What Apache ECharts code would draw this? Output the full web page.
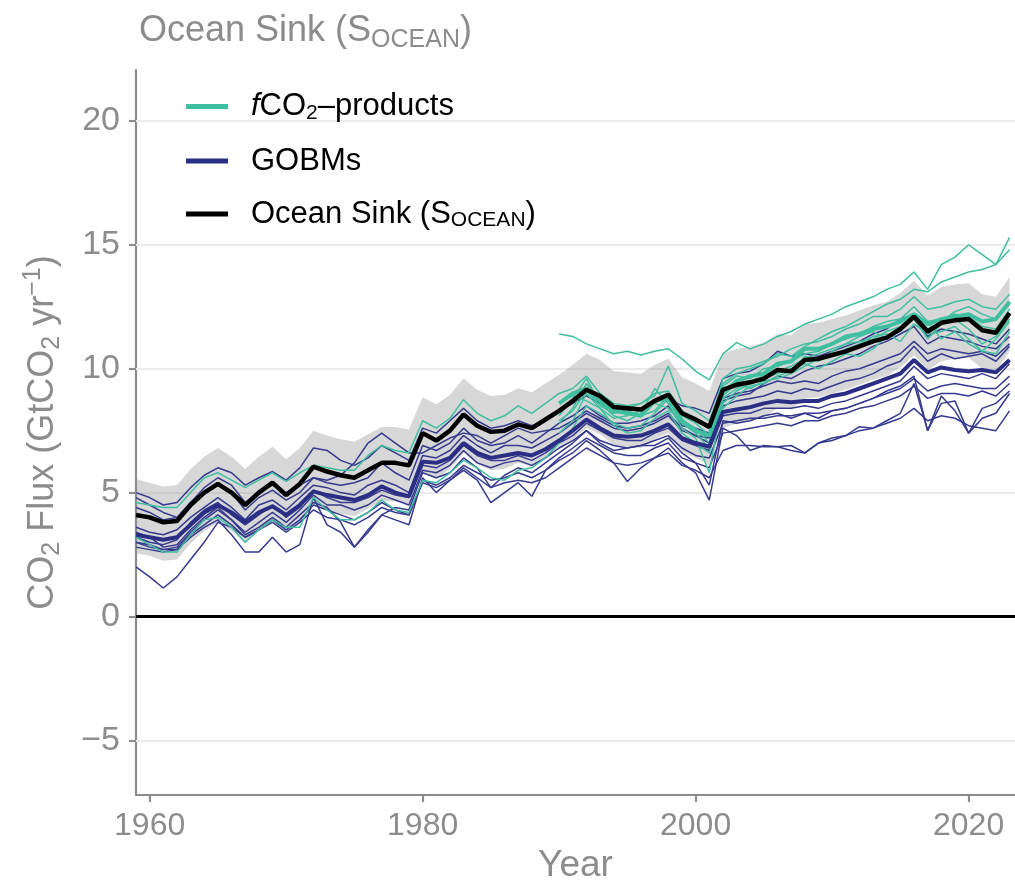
<!DOCTYPE html>
<html>
<head>
<meta charset="utf-8">
<script src="https://cdn.jsdelivr.net/npm/echarts@6/dist/echarts.min.js"></script>
<style>html,body{margin:0;padding:0;background:#fff}#c{width:1015px;height:884px}</style>
</head>
<body>
<div id="c"></div>
<script>
// ---------------- DATA (GtCO2 / yr) ----------------
const startYear = 1959;        // first year of the full-length series
const productsStart = 1990;    // first year of most fCO2-products
const xTicks = [1960, 1980, 2000, 2020];
const yTicks = [-5, 0, 5, 10, 15, 20];

// Ocean sink (S_OCEAN), 1959-2023
const socean = [4.1,4.0,3.8,3.85,4.5,5.0,5.35,5.0,4.5,5.0,
  5.4,4.9,5.35,6.05,5.85,5.7,5.6,5.9,6.2,6.2,
  6.1,7.4,7.1,7.5,8.15,7.7,7.45,7.5,7.75,7.6,
  7.95,8.3,8.7,9.15,8.9,8.45,8.4,8.35,8.7,8.95,
  8.2,7.95,7.65,9.15,9.35,9.45,9.6,9.95,9.9,10.35,
  10.4,10.55,10.7,10.9,11.1,11.25,11.6,12.1,11.5,11.85,
  11.95,12.0,11.55,11.45,12.25];
// uncertainty band (upper / lower edge), 1959-2023
const bandUpper = [5.55,5.4,5.25,5.3,5.95,6.45,6.8,6.45,5.95,6.45,
  6.85,6.35,6.8,7.5,7.3,7.15,7.05,7.35,7.65,7.65,
  7.55,8.85,8.55,8.95,9.6,9.15,8.9,8.95,9.2,9.05,
  9.4,9.75,10.15,10.6,10.35,9.9,9.85,9.8,10.15,10.4,
  9.65,9.4,9.1,10.6,10.8,10.9,11.05,11.4,11.35,11.8,
  11.85,12.0,12.15,12.35,12.55,12.7,13.05,13.55,12.95,13.3,
  13.4,13.45,13.0,12.9,13.7];
const bandLower = [2.55,2.45,2.25,2.3,2.95,3.45,3.8,3.45,2.95,3.45,
  3.85,3.35,3.8,4.5,4.3,4.15,4.05,4.35,4.65,4.65,
  4.55,5.85,5.55,5.95,6.6,6.15,5.9,5.95,6.2,6.05,
  6.4,6.75,7.15,7.6,7.35,6.9,6.85,6.8,7.15,7.4,
  6.65,6.4,6.1,7.6,7.8,7.9,8.05,8.4,8.35,8.8,
  8.85,9.0,9.15,9.35,9.55,9.7,10.05,10.55,9.95,10.3,
  10.4,10.45,10.0,9.9,10.7];
// GOBM ensemble mean, 1959-2023
const gobmMean = [3.3,3.2,3.1,3.2,3.7,4.2,4.5,4.2,3.8,4.2,
  4.45,4.1,4.5,5.05,4.9,4.8,4.7,4.9,5.25,5.0,
  4.85,6.25,6.2,6.4,7.0,6.6,6.4,6.5,6.6,6.5,
  6.75,7.1,7.5,7.95,7.6,7.3,7.25,7.3,7.5,7.75,
  7.2,7.0,6.85,8.25,8.35,8.45,8.6,8.7,8.65,8.7,
  8.7,8.9,9.0,9.2,9.4,9.6,9.8,10.35,9.85,10.05,
  9.95,9.9,9.95,9.85,10.35];
// fCO2-products mean, 1990-2023
const fco2Mean = [8.6,9.0,9.2,8.7,8.3,8.2,8.1,8.7,8.8,7.9,
  7.5,7.3,9.0,9.5,9.7,9.8,10.2,10.3,10.8,10.8,
  11.0,11.3,11.4,11.6,11.7,11.9,12.2,11.8,12.0,12.1,
  12.2,11.9,12.0,12.7];

// individual GOBMs, 1959-2023
const gobm1 = [5.0,4.8,4.5,4.6,5.2,5.7,6.0,5.8,5.3,5.6,
  5.85,5.5,6.0,6.8,6.7,6.3,6.1,6.4,6.9,6.6,
  6.3,7.6,7.4,7.9,8.4,7.9,7.6,7.7,7.9,7.7,
  7.9,8.3,8.6,8.9,8.6,8.3,8.3,8.4,8.7,8.8,
  8.5,8.4,8.2,9.6,9.8,9.9,10.2,10.7,10.5,10.6,
  10.5,10.7,10.9,11.1,11.4,11.6,12.0,12.2,11.3,11.6,
  11.5,11.4,11.2,11.0,11.6];
const gobm2 = [4.4,4.2,3.9,4.0,4.6,5.0,5.3,5.0,4.3,4.8,
  5.1,4.7,5.0,5.6,5.4,5.3,5.4,5.6,6.2,5.8,
  5.5,6.9,6.7,7.0,7.6,7.1,6.9,7.0,7.3,7.0,
  7.4,7.8,8.1,8.5,8.1,7.8,7.8,7.9,8.1,8.5,
  7.7,7.6,7.4,8.8,9.0,9.1,9.3,9.5,9.4,9.5,
  9.4,9.7,9.9,10.0,10.2,10.4,10.6,11.1,10.6,10.8,
  10.7,10.6,10.7,10.5,11.0];
const gobm3 = [3.6,3.4,3.3,3.5,4.0,4.4,4.8,4.4,3.9,4.5,
  4.7,4.3,4.8,5.3,5.2,5.0,4.9,5.3,5.5,5.3,
  5.0,6.5,6.4,6.7,7.3,6.9,6.6,6.9,6.9,6.8,
  7.1,7.4,7.8,8.2,7.9,7.6,7.5,7.6,7.8,8.1,
  7.5,7.3,7.2,8.5,8.7,8.8,8.9,9.1,9.0,9.2,
  9.1,9.3,9.5,9.6,9.8,10.1,10.3,10.9,10.3,10.6,
  10.4,10.5,10.6,10.3,10.9];
const gobm4 = [3.2,3.0,2.9,3.1,3.8,4.3,4.6,4.1,3.7,4.1,
  4.5,4.0,4.4,5.1,4.8,4.6,4.6,4.8,5.1,4.9,
  4.8,6.1,6.0,6.3,6.9,6.5,6.3,6.3,6.5,6.3,
  6.6,7.0,7.3,7.8,7.5,7.2,7.1,7.1,7.4,7.6,
  7.1,6.9,6.7,8.1,8.2,8.2,8.4,8.4,8.4,8.5,
  8.4,8.6,8.7,8.9,9.1,9.3,9.5,10.1,9.6,9.8,
  9.7,9.6,9.8,9.6,10.2];
const gobm5 = [3.0,2.9,2.7,2.8,3.4,3.9,4.3,3.9,3.4,3.8,
  4.2,3.8,4.3,4.9,4.5,4.5,4.3,4.5,4.9,4.7,
  4.5,5.9,5.8,6.1,6.7,6.2,6.0,6.2,6.3,6.1,
  6.4,6.8,7.1,7.5,7.1,6.9,6.8,6.9,7.1,7.3,
  6.8,6.5,6.4,7.8,7.9,8.0,8.0,8.1,8.1,8.2,
  8.2,8.3,8.4,8.6,8.8,9.0,9.2,9.6,9.1,9.3,
  9.4,9.3,9.2,9.2,9.7];
const gobm6 = [2.8,2.7,2.6,2.7,3.2,3.6,3.9,3.3,2.6,2.6,
  3.2,2.6,2.9,4.8,3.7,3.4,2.8,3.5,4.1,3.9,
  3.7,5.6,5.0,5.5,5.9,5.5,4.6,5.0,5.4,4.85,
  5.9,6.3,6.6,7.1,6.7,6.2,5.45,6.0,6.4,6.8,
  6.2,5.8,4.7,7.6,7.3,6.7,6.9,6.85,6.9,6.6,
  7.0,7.2,7.3,7.66,7.6,7.9,8.2,9.4,7.5,8.9,
  8.3,7.4,8.0,8.2,9.0];
const gobm7 = [2.0,1.6,1.15,1.6,2.3,3.0,3.8,3.6,3.2,3.5,
  3.8,3.4,3.8,4.3,4.0,3.9,3.7,4.0,4.4,4.2,
  4.1,5.5,5.3,5.6,6.1,5.8,5.5,5.6,5.8,5.6,
  5.9,6.4,6.8,7.2,6.9,6.6,6.5,6.5,6.8,7.0,
  6.4,6.2,6.0,7.4,7.5,7.6,7.7,7.8,7.7,7.9,
  7.9,8.1,8.2,8.4,8.5,8.7,8.9,9.3,8.8,9.0,
  9.0,8.9,9.1,8.9,9.4];
const gobm8 = [3.0,2.8,2.7,2.7,3.3,3.7,4.1,3.7,3.2,3.5,
  3.9,3.5,3.9,4.5,4.3,4.1,3.9,4.2,4.6,4.3,
  4.1,5.4,5.2,5.5,6.0,5.6,5.2,5.4,5.5,5.4,
  5.6,6.0,6.4,6.8,6.5,6.2,6.1,6.2,6.4,6.6,
  6.1,5.9,5.6,6.7,6.9,6.9,6.85,6.85,6.7,6.6,
  7.0,7.1,7.3,7.5,7.6,7.8,8.0,8.4,7.9,8.1,
  8.0,7.7,7.6,7.5,8.3];
const gobm9 = [3.4,3.2,2.8,2.9,3.5,4.0,4.4,3.9,3.3,3.6,
  4.0,3.6,4.1,4.6,4.4,3.8,2.8,3.4,4.1,4.4,
  4.3,5.8,5.6,5.8,6.4,6.0,5.2,5.7,6.0,5.8,
  6.2,6.6,7.0,7.5,7.0,6.7,6.8,6.9,6.9,7.2,
  6.6,6.2,5.3,7.9,7.8,7.9,8.1,8.2,8.0,8.2,
  8.0,8.3,8.4,8.6,8.8,9.1,9.3,9.7,7.5,8.6,
  8.7,7.4,8.4,8.6,9.1];
const gobm10 = [4.8,4.5,4.2,4.0,4.6,5.2,5.6,5.3,4.6,5.0,
  5.3,5.0,5.3,5.6,5.5,5.7,6.2,7.0,7.4,7.0,
  6.6,6.6,6.9,7.2,7.4,7.3,7.0,7.3,7.6,7.4,
  7.5,7.6,7.9,8.3,8.0,7.7,7.6,7.7,7.9,8.2,
  7.6,7.3,7.0,8.7,8.9,9.0,9.4,9.7,9.6,9.9,
  10.1,10.2,10.4,10.6,10.9,11.1,11.4,11.7,11.0,11.3,
  11.2,11.1,10.9,10.8,11.3];

// individual fCO2-products (two long records from 1959, the rest from 1990)
const fco2Long1 = [4.6,4.5,4.4,4.4,5.0,5.6,5.8,5.5,5.2,5.5,
  5.8,5.45,5.8,6.1,6.0,5.9,5.9,6.5,6.9,6.7,
  6.6,7.9,7.6,8.0,8.75,8.2,7.9,8.1,8.5,8.2,
  8.6,9.0,9.2,9.7,9.0,8.6,8.5,8.6,9.0,9.1,
  8.3,8.0,7.6,9.6,10.0,10.1,10.3,10.5,10.8,11.0,
  11.1,11.3,11.6,11.8,12.1,12.1,12.4,12.9,12.4,12.5,
  12.7,12.8,12.5,12.4,13.0];
const fco2Long2 = [3.2,2.9,2.6,2.6,3.3,3.9,4.0,3.6,3.0,3.5,
  3.9,3.6,3.6,4.8,4.3,3.9,3.9,4.2,4.7,4.3,
  4.2,5.5,5.4,5.8,6.3,6.0,5.6,5.5,5.9,6.0,
  6.4,7.0,7.6,8.5,8.2,7.8,7.6,7.7,8.2,8.8,
  7.9,7.6,7.0,8.4,8.9,9.3,9.4,9.7,9.9,10.5,
  10.3,10.7,11.0,11.1,11.2,11.5,11.7,12.2,11.6,11.9,
  12.3,12.5,12.2,12.0,12.6];
const fco2P1 = [11.4,11.3,11.0,10.8,10.6,10.7,10.55,10.7,10.8,10.4,
  9.9,9.55,10.6,11.05,10.8,11.0,11.3,11.5,11.8,12.0,
  12.2,12.5,12.7,12.9,13.2,13.4,13.9,13.2,14.2,14.5,
  15.0,14.6,14.2,15.3];
const fco2P2 = [7.8,8.4,9.4,8.7,8.3,8.4,8.6,8.9,10.1,8.6,
  8.3,7.9,9.4,9.8,10.0,10.2,10.6,10.5,10.9,11.2,
  11.5,11.7,12.0,12.3,12.6,12.8,13.2,13.1,13.5,13.7,
  13.9,14.0,14.2,14.8];
const fco2P3 = [8.1,8.8,9.6,8.6,8.1,7.9,8.2,9.2,8.6,7.6,
  7.2,5.8,8.8,9.2,9.5,9.7,9.9,10.1,10.4,10.6,
  10.8,11.0,11.3,11.5,11.2,11.6,12.0,11.2,11.8,12.0,
  11.6,11.0,11.3,12.0];
const fco2P4 = [7.4,7.9,9.0,8.4,7.7,7.4,7.5,8.0,8.3,7.4,
  7.0,6.6,8.6,9.1,9.4,9.6,9.8,10.0,10.2,10.0,
  10.3,10.6,10.5,10.8,11.3,11.5,12.2,11.9,11.2,11.5,
  11.0,10.7,11.2,11.9];
const fco2P5 = [7.9,8.3,9.1,8.5,8.2,8.3,8.1,8.3,8.9,8.1,
  7.8,7.3,9.3,9.7,9.6,10.0,10.1,10.3,10.6,10.7,
  11.0,11.2,11.4,11.7,11.9,12.0,12.5,11.9,12.0,12.2,
  12.1,11.7,11.6,12.4];
const fco2P6 = [8.6,8.9,8.7,8.4,8.0,8.1,8.3,8.6,8.4,7.8,
  7.4,6.8,8.9,9.4,9.2,9.5,9.6,9.8,10.1,10.4,
  10.5,10.8,11.0,11.3,11.4,11.1,11.8,11.4,11.5,11.7,
  11.2,10.7,10.6,11.5];

// ---------------- CHART ----------------
const FONT = "'Liberation Sans', Arial, Helvetica, sans-serif";
const GREY = '#8c8c8c';
const TEAL = '#3fbf9f';
const BLUE_THIN = '#363a8e';
const BLUE = '#2b2e85';

const pts = (arr, start) => arr.map((v, i) => [start + i, v]);
const bandYears = socean.map((_, i) => startYear + i);

const gobmModels = [gobm1, gobm2, gobm3, gobm4, gobm5, gobm6, gobm7, gobm8, gobm9, gobm10];
const fco2Models = [[fco2Long1, startYear], [fco2Long2, startYear],
  [fco2P1, productsStart], [fco2P2, productsStart], [fco2P3, productsStart],
  [fco2P4, productsStart], [fco2P5, productsStart], [fco2P6, productsStart]];

const thin = (name, arr, start, color) => ({
  name, type: 'line', data: pts(arr, start), symbol: 'none', z: 3,
  lineStyle: { color, width: 1.5 }, itemStyle: { color }, silent: true
});

const series = [
  { // grid lines (drawn as marker lines at the tick values)
    name: 'grid', type: 'line', data: pts(socean, startYear), symbol: 'none', silent: true,
    lineStyle: { opacity: 0 }, z: 1,
    markLine: {
      silent: true, symbol: ['none', 'none'], z: 1, label: { show: false },
      data: yTicks.map(v => ({ yAxis: v, lineStyle: v === 0 ? { color: '#000', width: 2.8, type: 'solid' } : { color: '#ebebeb', width: 2, type: 'solid' } }))
    }
  },
  { // uncertainty band as one polygon through the axis scales
    name: 'band', type: 'custom', silent: true, z: 2, clip: true,
    data: [[startYear, bandLower[0]]],
    renderItem: (params, api) => {
      const top = bandYears.map((x, i) => api.coord([x, bandUpper[i]]));
      const bot = bandYears.map((x, i) => api.coord([x, bandLower[i]])).reverse();
      return { type: 'polygon', shape: { points: top.concat(bot) },
        style: { fill: 'rgba(150,150,150,0.38)', stroke: null } };
    }
  }
];
gobmModels.forEach((m, i) => series.push(thin('gobm' + (i + 1), m, startYear, BLUE_THIN)));
fco2Models.forEach(([m, s], i) => series.push(thin('fco2_' + (i + 1), m, s, TEAL)));
series.push(
  { name: 'GOBMs', type: 'line', data: pts(gobmMean, startYear), symbol: 'none', z: 4,
    lineStyle: { color: BLUE, width: 4 }, itemStyle: { color: BLUE } },
  { name: 'fCO2-products', type: 'line', data: pts(fco2Mean, productsStart), symbol: 'none', z: 4,
    lineStyle: { color: TEAL, width: 4 }, itemStyle: { color: TEAL } },
  { name: 'Ocean Sink', type: 'line', data: pts(socean, startYear), symbol: 'none', z: 5,
    lineStyle: { color: '#000', width: 4.5 }, itemStyle: { color: '#000' } }
);

const legendRich = {
  p: { width: 18, fontSize: 31, lineHeight: 34, fontFamily: FONT },
  t: { fontSize: 31, lineHeight: 34, color: '#000', fontFamily: FONT },
  it: { fontSize: 31, lineHeight: 34, color: '#000', fontStyle: 'italic', fontFamily: FONT },
  s: { fontSize: 21, lineHeight: 16, color: '#000', verticalAlign: 'bottom', fontFamily: FONT }
};

const chart = echarts.init(document.getElementById('c'), null, { renderer: 'canvas' });
chart.setOption({
  animation: false,
  backgroundColor: '#fff',
  title: {
    left: 134, top: 4,
    text: '{t|Ocean Sink (S}{s|OCEAN}{t|)}',
    textStyle: {
      fontWeight: 'normal',
      rich: {
        t: { fontSize: 36, lineHeight: 44, color: GREY, fontWeight: 'normal', fontFamily: FONT },
        s: { fontSize: 25, lineHeight: 20, color: GREY, fontWeight: 'normal', verticalAlign: 'bottom', fontFamily: FONT }
      }
    }
  },
  legend: {
    orient: 'vertical', left: 181, top: 86, itemWidth: 42, itemHeight: 5, itemGap: 22,
    icon: 'rect', selectedMode: false,
    data: ['fCO2-products', 'GOBMs', 'Ocean Sink'],
    formatter: name => {
      if (name === 'fCO2-products') return '{p| }{it|f}{t|CO}{s|2}{t|\u2013products}';
      if (name === 'GOBMs') return '{p| }{t|GOBMs}';
      return '{p| }{t|Ocean Sink (S}{s|OCEAN}{t|)}';
    },
    textStyle: { rich: legendRich }
  },
  grid: { left: 136, right: 0, top: 70, bottom: 89, containLabel: false, outerBoundsMode: 'none' },
  xAxis: {
    type: 'value', min: 1959, max: 2023.4,
    name: 'Year', nameLocation: 'middle', nameGap: 51,
    nameTextStyle: { color: GREY, fontSize: 37, fontFamily: FONT },
    axisLine: { show: true, onZero: false, lineStyle: { color: GREY, width: 2.2 } },
    axisTick: { show: true, customValues: xTicks, length: 7, lineStyle: { color: GREY, width: 2.2 } },
    axisLabel: { customValues: xTicks, color: GREY, fontSize: 32, margin: 15, fontFamily: FONT,
      formatter: v => String(v) },
    splitLine: { show: false }
  },
  yAxis: {
    type: 'value', min: -7.2, max: 22.05,
    name: '{t|CO}{s|2}{t| Flux (GtCO}{s|2}{t| yr}{u|\u22121}{t|)}',
    nameLocation: 'middle', nameGap: 71,
    nameTextStyle: {
      rich: {
        t: { fontSize: 36, lineHeight: 44, color: GREY, fontFamily: FONT },
        s: { fontSize: 25, lineHeight: 22, color: GREY, verticalAlign: 'bottom', fontFamily: FONT },
        u: { fontSize: 25, lineHeight: 22, color: GREY, verticalAlign: 'top', fontFamily: FONT }
      }
    },
    axisLine: { show: true, onZero: false, lineStyle: { color: GREY, width: 2.2 } },
    axisTick: { show: true, customValues: yTicks, length: 7, lineStyle: { color: GREY, width: 2.2 } },
    axisLabel: { customValues: yTicks, color: GREY, fontSize: 34, margin: 16, fontFamily: FONT,
      formatter: v => (v < 0 ? '\u2212' + Math.abs(v) : String(v)) },
    splitLine: { show: false }
  },
  series
});
</script>
</body>
</html>
